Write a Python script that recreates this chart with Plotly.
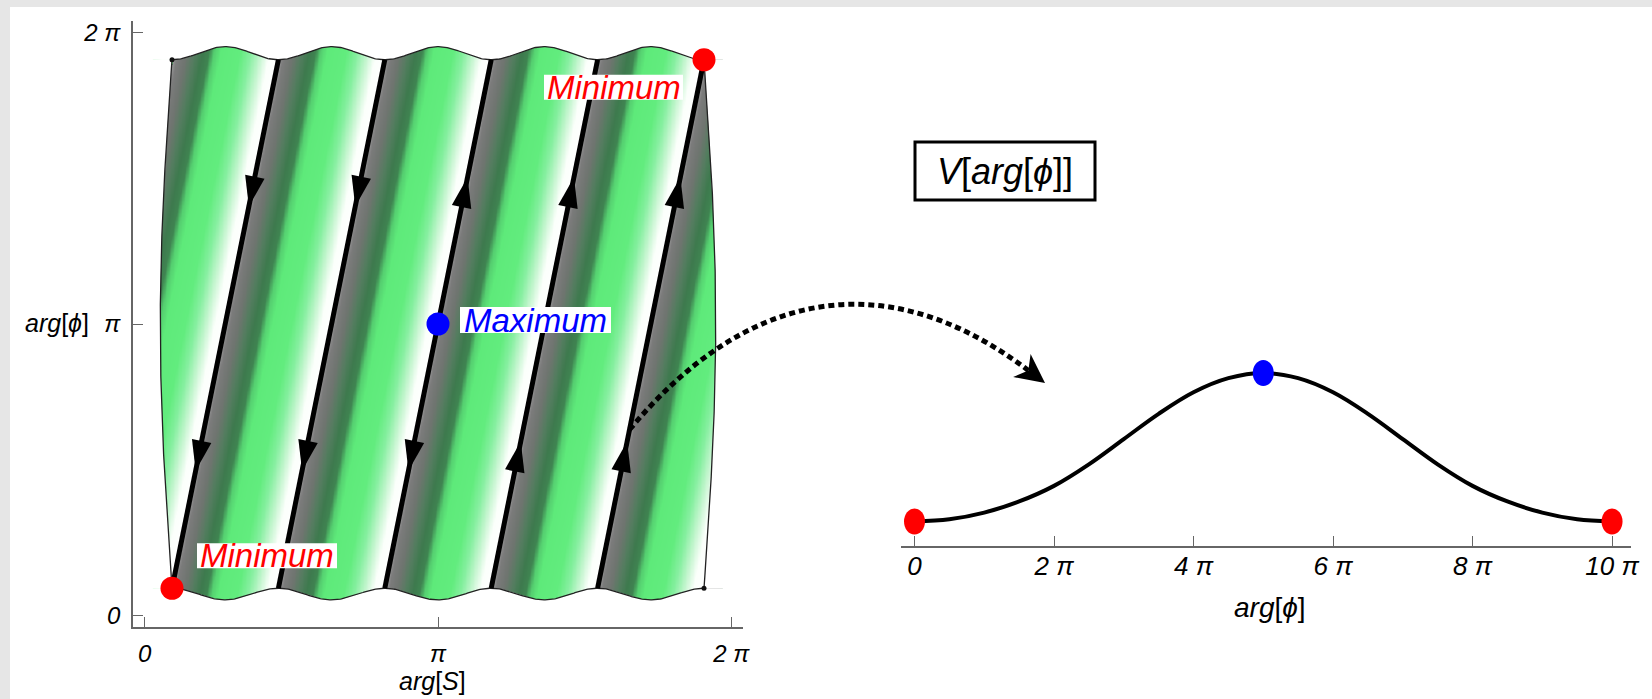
import numpy as np
import plotly.graph_objects as go

W, H = 1652, 699
FONT = "Liberation Sans, Arial, Helvetica, sans-serif"

# ---------------- data (all angles in units of pi) ----------------
SURF_LO = 0.093          # lower-left corner of the potential surface
SURF_HI = 1.907          # upper-right corner
N_TRAJ = 5               # flow lines winding across the torus
ARROW_FRACS = [0.25, 0.75]                       # arrow positions along each line
ARROW_DIRS = [[-1, -1], [-1, -1], [-1, 1], [1, 1], [1, 1]]   # +1 = upward flow
MIN_S = [SURF_LO, SURF_HI]
MIN_PHI = [SURF_LO, SURF_HI]
MAX_S = [1.0]
MAX_PHI = [1.0]
LEFT_TICKVALS = [0, 1, 2]
LEFT_TICKTEXT = ["0", "π", "2 π"]

PHI_PATH = [0.0, 0.5, 1.0, 1.5, 2.0, 2.5, 3.0, 3.5, 4.0, 4.5, 5.0,
            5.5, 6.0, 6.5, 7.0, 7.5, 8.0, 8.5, 9.0, 9.5, 10.0]
V_PATH = [0.0, 0.015, 0.06, 0.135, 0.24, 0.385, 0.555, 0.725, 0.87, 0.965, 1.0,
          0.965, 0.87, 0.725, 0.555, 0.385, 0.24, 0.135, 0.06, 0.015, 0.0]
RIGHT_MIN_PHI = [0.0, 10.0]
RIGHT_MIN_V = [0.0, 0.0]
RIGHT_MAX_PHI = [5.0]
RIGHT_MAX_V = [1.0]
RIGHT_TICKVALS = [0, 2, 4, 6, 8, 10]
RIGHT_TICKTEXT = ["0", "2 π", "4 π", "6 π", "8 π", "10 π"]

# stripe shading of the surface: colour vs. phase between neighbouring flow lines
STRIPE_COLORS = [
    [0.00, "#9a9a9a"], [0.04, "#7c7c7c"], [0.12, "#6f7570"], [0.20, "#537d5f"],
    [0.27, "#3e7a4e"], [0.33, "#3f8451"], [0.38, "#55cf70"], [0.44, "#5eea7a"],
    [0.62, "#62ec7e"], [0.72, "#86efa0"], [0.82, "#c8f6d2"], [0.90, "#fbfffb"],
    [1.00, "#ffffff"],
]

# ---------------- geometry / style ----------------
LBOX = (133, 21, 743, 627)          # left plot box in px (x0, top, x1, bottom)
L_RANGE = [-0.04, 2.04]
RBOX = (901, 330, 1631, 546)
RX_RANGE = [-0.1935, 10.272]
RY_RANGE = [-0.165, 1.2895]
A_TOP, A_BOT, A_LR = 0.045, 0.040, 0.040   # bulge of the surface edges
SP = (SURF_HI - SURF_LO) / N_TRAJ

KX = (LBOX[2] - LBOX[0]) / (L_RANGE[1] - L_RANGE[0])
KY = (LBOX[3] - LBOX[1]) / (L_RANGE[1] - L_RANGE[0])


def lpx(x, y):
    return (LBOX[0] + (x - L_RANGE[0]) * KX, LBOX[3] - (y - L_RANGE[0]) * KY)


def pap(px, py):
    return px / W, 1 - py / H


fig = go.Figure()

# ---- shaded surface ----
hx = np.linspace(0.03, 1.97, 420)
hy = np.linspace(0.03, 1.97, 420)
X, Y = np.meshgrid(hx, hy)
Z = (((X - SURF_LO) - SP * (Y - SURF_LO) / (SURF_HI - SURF_LO)) / SP) % 1.0
fig.add_trace(go.Heatmap(x=hx, y=hy, z=Z.astype(np.float32), colorscale=STRIPE_COLORS,
                         zmin=0, zmax=1, zsmooth="best", showscale=False,
                         hoverinfo="skip", xaxis="x", yaxis="y"))

xs = np.linspace(SURF_LO, SURF_HI, 500)
v = ((xs - SURF_LO) / SP) % 1.0
top_e = SURF_HI + A_TOP * (1 - np.cos(2 * np.pi * v)) / 2
bot_e = SURF_LO - A_BOT * (1 - np.cos(2 * np.pi * v)) / 2
ys = np.linspace(SURF_LO, SURF_HI, 300)
t = (ys - SURF_LO) / (SURF_HI - SURF_LO)
left_e = SURF_LO - A_LR * np.sin(np.pi * t)
right_e = SURF_HI + A_LR * np.sin(np.pi * t)

E0, E1 = 0.0, 2.0
masks = [
    ([E0, SURF_LO] + list(xs) + [SURF_HI, E1, E1, E0],
     [SURF_HI, SURF_HI] + list(top_e) + [SURF_HI, SURF_HI, E1, E1]),
    ([E0, SURF_LO] + list(xs) + [SURF_HI, E1, E1, E0],
     [SURF_LO, SURF_LO] + list(bot_e) + [SURF_LO, SURF_LO, E0, E0]),
    ([E0] + list(left_e) + [E0], [SURF_LO] + list(ys) + [SURF_HI]),
    ([E1] + list(right_e) + [E1], [SURF_LO] + list(ys) + [SURF_HI]),
]
for mx, my in masks:
    fig.add_trace(go.Scatter(x=mx, y=my, mode="lines", fill="toself", fillcolor="white",
                             line=dict(width=0, color="white"), hoverinfo="skip",
                             xaxis="x", yaxis="y"))

ox = list(xs) + list(right_e[::-1]) + list(xs[::-1]) + list(left_e)
oy = list(top_e) + list(ys[::-1]) + list(bot_e[::-1]) + list(ys)
fig.add_trace(go.Scatter(x=ox, y=oy, mode="lines", line=dict(color="#222", width=1.3),
                         hoverinfo="skip", xaxis="x", yaxis="y"))

# ---- flow lines ----
lx, ly = [], []
for k in range(N_TRAJ):
    lx += [SURF_LO + k * SP, SURF_LO + (k + 1) * SP, None]
    ly += [SURF_LO, SURF_HI, None]
fig.add_trace(go.Scatter(x=lx, y=ly, mode="lines", line=dict(color="black", width=5),
                         hoverinfo="skip", xaxis="x", yaxis="y"))

# ---- arrow heads on the flow lines ----
dxp, dyp = SP * KX, (SURF_HI - SURF_LO) * KY
theta = np.degrees(np.arctan2(dxp, dyp))
DF = 15.0 / np.hypot(dxp, dyp)
axs, ays, angs = [], [], []
for k in range(N_TRAJ):
    for f, d in zip(ARROW_FRACS, ARROW_DIRS[k]):
        ft = f + d * DF
        axs.append(SURF_LO + k * SP + ft * SP)
        ays.append(SURF_LO + ft * (SURF_HI - SURF_LO))
        angs.append(theta if d > 0 else theta + 180)
fig.add_trace(go.Scatter(x=axs, y=ays, mode="markers", hoverinfo="skip",
                         marker=dict(symbol="arrow", size=32, color="black", angle=angs,
                                     line=dict(width=0)), xaxis="x", yaxis="y"))

# corner specks
fig.add_trace(go.Scatter(x=[SURF_LO, SURF_HI], y=[SURF_HI, SURF_LO], mode="markers",
                         marker=dict(size=5, color="#111"), hoverinfo="skip",
                         xaxis="x", yaxis="y"))
# extrema
fig.add_trace(go.Scatter(x=MIN_S, y=MIN_PHI, mode="markers", hoverinfo="skip",
                         marker=dict(size=23, color="#ff0000"), xaxis="x", yaxis="y"))
fig.add_trace(go.Scatter(x=MAX_S, y=MAX_PHI, mode="markers", hoverinfo="skip",
                         marker=dict(size=23, color="#0000ff"), xaxis="x", yaxis="y"))

# ---- right panel: potential along the path ----
fig.add_trace(go.Scatter(x=PHI_PATH, y=V_PATH, mode="lines", hoverinfo="skip",
                         line=dict(color="black", width=4, shape="spline", smoothing=1.0),
                         xaxis="x2", yaxis="y2"))

shapes = []
# page border strips
shapes.append(dict(type="rect", xref="paper", yref="paper", x0=0, x1=1, y0=1 - 7 / H, y1=1,
                   fillcolor="#e6e6e6", line=dict(width=0), layer="below"))
shapes.append(dict(type="rect", xref="paper", yref="paper", x0=0, x1=10 / W, y0=0, y1=1,
                   fillcolor="#e6e6e6", line=dict(width=0), layer="below"))

# ellipse dots on the right panel
for px_, pv_, col in [(RIGHT_MIN_PHI[0], RIGHT_MIN_V[0], "#ff0000"),
                      (RIGHT_MIN_PHI[1], RIGHT_MIN_V[1], "#ff0000"),
                      (RIGHT_MAX_PHI[0], RIGHT_MAX_V[0], "#0000ff")]:
    shapes.append(dict(type="circle", xref="x2", yref="y2", xsizemode="pixel",
                       ysizemode="pixel", xanchor=px_, yanchor=pv_, x0=-10.5, x1=10.5,
                       y0=-13, y1=13, fillcolor=col, line=dict(width=0), layer="above"))

# label backgrounds
LABELS = [
    (MIN_S[1], MIN_PHI[1], "Minimum", "#ff0000", -90.5, -27.5, 139, 25),
    (MIN_S[0], MIN_PHI[0], "Minimum", "#ff0000", 95.0, 32.5, 140, 25),
    (MAX_S[0], MAX_PHI[0], "Maximum", "#0000ff", 97.5, 4.0, 151, 26),
]
annotations = []
for x_, y_, txt, col, dx, dy, bw, bh in LABELS:
    shapes.append(dict(type="rect", xref="x", yref="y", xsizemode="pixel", ysizemode="pixel",
                       xanchor=x_, yanchor=y_, x0=dx - bw / 2, x1=dx + bw / 2,
                       y0=dy - bh / 2, y1=dy + bh / 2, fillcolor="white",
                       line=dict(width=0), layer="above"))
    annotations.append(dict(x=x_, y=y_, xref="x", yref="y", text=f"<i>{txt}</i>",
                            showarrow=False, xshift=dx, yshift=dy, xanchor="center",
                            yanchor="middle", font=dict(family=FONT, size=33, color=col)))

# dotted connector from the flow line to the right panel
f0 = 0.3
sx, sy = lpx(SURF_LO + 4 * SP + f0 * SP, SURF_LO + f0 * (SURF_HI - SURF_LO))
tip = np.array([1045.0, 383.0])
d_end = np.array([0.798, 0.603])
n_end = np.array([-d_end[1], d_end[0]])
L_HEAD, W_HEAD = 29.0, 29.0
p3 = tip - 0.72 * L_HEAD * d_end
p0 = np.array([sx, sy])
p1 = p0 + 175 * np.array([0.64, -0.77])
p2 = p3 - 185 * d_end


def pp(p):
    a, b = pap(p[0], p[1])
    return f"{a:.5f},{b:.5f}"


shapes.append(dict(type="path", xref="paper", yref="paper",
                   path=f"M{pp(p0)} C{pp(p1)} {pp(p2)} {pp(p3)}",
                   line=dict(color="black", width=5, dash="6px,4px"), layer="above"))
b1 = tip - L_HEAD * d_end + W_HEAD / 2 * n_end
b2 = tip - L_HEAD * d_end - W_HEAD / 2 * n_end
notch = tip - 0.72 * L_HEAD * d_end
shapes.append(dict(type="path", xref="paper", yref="paper",
                   path=f"M{pp(tip)} L{pp(b1)} L{pp(notch)} L{pp(b2)} Z",
                   fillcolor="black", line=dict(width=0), layer="above"))

# title box
bx0, by0 = pap(915, 200)
bx1, by1 = pap(1095, 142)
shapes.append(dict(type="rect", xref="paper", yref="paper", x0=bx0, x1=bx1, y0=by0, y1=by1,
                   line=dict(color="black", width=3), fillcolor="rgba(0,0,0,0)", layer="above"))


def pann(px, py, text, size):
    a, b = pap(px, py)
    return dict(x=a, y=b, xref="paper", yref="paper", text=text, showarrow=False,
                xanchor="center", yanchor="middle", font=dict(family=FONT, size=size, color="black"))


annotations += [
    pann(1005, 171, "<i>V</i>[<i>arg</i>[<i>ϕ</i>]]", 36),
    pann(432, 681, "<i>arg</i>[<i>S</i>]", 25),
    pann(57, 323, "<i>arg</i>[<i>ϕ</i>]", 25),
    pann(1270, 607, "<i>arg</i>[<i>ϕ</i>]", 28),
]

axis_common = dict(showgrid=False, zeroline=False, showline=True, linecolor="#666",
                   linewidth=1.5, ticks="inside", ticklen=10, tickwidth=1.2, tickcolor="#666",
                   fixedrange=True)

fig.update_layout(
    width=W, height=H, margin=dict(l=0, r=0, t=0, b=0, autoexpand=False),
    paper_bgcolor="white", plot_bgcolor="rgba(0,0,0,0)", showlegend=False, hovermode=False,
    xaxis=dict(domain=[LBOX[0] / W, LBOX[2] / W], range=L_RANGE, anchor="y",
               tickvals=LEFT_TICKVALS, ticktext=[f"<i>{s}</i>" for s in LEFT_TICKTEXT],
               tickfont=dict(family=FONT, size=24, color="black"), ticklabelstandoff=4,
               **axis_common),
    yaxis=dict(domain=[1 - LBOX[3] / H, 1 - LBOX[1] / H], range=L_RANGE, anchor="x",
               tickvals=LEFT_TICKVALS, ticktext=[f"<i>{s}</i>" for s in LEFT_TICKTEXT],
               tickfont=dict(family=FONT, size=24, color="black"), ticklabelstandoff=6,
               **axis_common),
    xaxis2=dict(domain=[RBOX[0] / W, RBOX[2] / W], range=RX_RANGE, anchor="y2",
                tickvals=RIGHT_TICKVALS, ticktext=[f"<i>{s}</i>" for s in RIGHT_TICKTEXT],
                tickfont=dict(family=FONT, size=26, color="black"), ticklabelstandoff=-4,
                **axis_common),
    yaxis2=dict(domain=[1 - RBOX[3] / H, 1 - RBOX[1] / H], range=RY_RANGE, anchor="x2",
                visible=False, fixedrange=True),
    shapes=shapes,
    annotations=annotations,
)

fig.write_html("out.html", config={"displayModeBar": False},
               post_script="document.body.style.margin='0';document.body.style.overflow='hidden';")
